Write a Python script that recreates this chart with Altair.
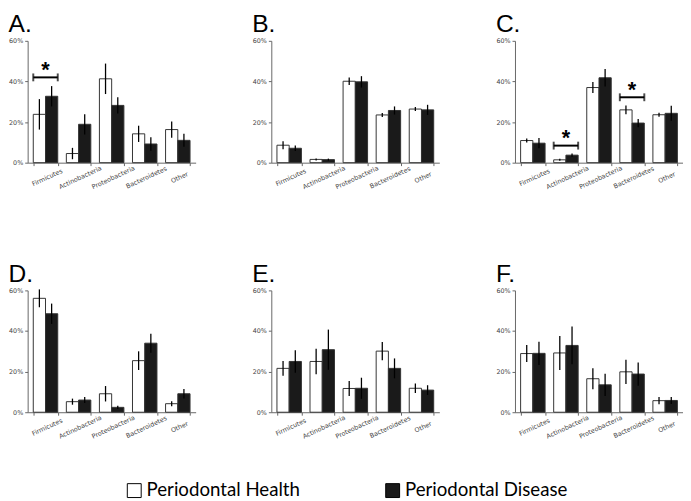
import altair as alt
import pandas as pd

categories = ["Firmicutes", "Actinobacteria", "Proteobacteria", "Bacteroidetes", "Other"]
groups = ["Periodontal Health", "Periodontal Disease"]
panel_labels = ["A.", "B.", "C.", "D.", "E.", "F."]

health_mean = [
    [23.8, 4.5, 41.3, 14.2, 16.3],
    [8.6, 1.6, 40.1, 23.5, 26.4],
    [10.9, 1.4, 37.0, 26.0, 23.6],
    [56.1, 5.2, 9.1, 25.4, 4.2],
    [21.6, 25.0, 11.7, 30.1, 11.8],
    [28.9, 29.2, 16.5, 19.9, 5.7],
]
health_err = [
    [7.5, 2.8, 7.5, 4.0, 4.0],
    [2.0, 0.5, 1.9, 1.0, 1.0],
    [1.0, 0.5, 2.7, 2.2, 1.0],
    [4.4, 1.5, 3.8, 4.6, 1.2],
    [3.6, 6.3, 3.7, 4.5, 2.3],
    [4.2, 8.4, 5.2, 6.0, 1.8],
]
disease_mean = [
    [32.7, 18.9, 28.2, 9.2, 11.0],
    [7.1, 1.5, 39.8, 25.7, 26.0],
    [9.6, 3.7, 41.8, 19.5, 24.3],
    [48.5, 6.0, 2.4, 34.0, 9.1],
    [25.0, 30.8, 11.8, 21.6, 10.9],
    [29.0, 32.9, 13.5, 18.8, 5.8],
]
disease_err = [
    [5.0, 5.0, 4.0, 3.3, 3.2],
    [1.3, 0.5, 2.8, 2.0, 2.5],
    [2.5, 0.8, 4.3, 2.0, 3.7],
    [5.0, 1.5, 0.8, 4.7, 2.3],
    [5.5, 9.9, 5.2, 4.9, 2.4],
    [5.7, 9.3, 5.5, 5.7, 1.7],
]
sig_panel = [0, 2, 2]
sig_category = ["Firmicutes", "Actinobacteria", "Bacteroidetes"]
sig_level = [42.0, 8.4, 32.2]
sig_star = [45.5, 12.0, 35.9]

AXIS_FONT = "DejaVu Sans"


def make_panel(i):
    rows = []
    for j, c in enumerate(categories):
        for g, m, e in ((groups[0], health_mean[i][j], health_err[i][j]),
                        (groups[1], disease_mean[i][j], disease_err[i][j])):
            rows.append({"cat": c, "grp": g, "val": m, "lo": m - e, "hi": m + e})
    df = pd.DataFrame(rows)

    xs = alt.Scale(domain=categories, paddingInner=0.26, paddingOuter=0.17)
    xaxis = alt.Axis(title=None, labelAngle=-25, labelAlign="center", labelBaseline="top",
                     labelFontSize=6.5, labelFont=AXIS_FONT,
                     labelColor="#444", tickBand="extent", tickSize=3, tickColor="#666",
                     domainColor="#666", labelPadding=9)
    ys = alt.Scale(domain=[0, 60], nice=False)
    yaxis = alt.Axis(title=None, values=[0, 10, 20, 30, 40, 50, 60],
                     labelExpr="datum.value + '%'", labelFontSize=6.5, labelFont=AXIS_FONT,
                     labelColor="#444", tickSize=3, tickColor="#666", domainColor="#666",
                     grid=False, labelPadding=2)
    xoff = alt.XOffset("grp:N", scale=alt.Scale(domain=groups, paddingInner=0, paddingOuter=0))

    bars = alt.Chart(df).mark_bar(stroke="#333", strokeWidth=1).encode(
        x=alt.X("cat:N", scale=xs, axis=xaxis, sort=categories),
        xOffset=xoff,
        y=alt.Y("val:Q", scale=ys, axis=yaxis),
        fill=alt.Fill("grp:N", scale=alt.Scale(domain=groups, range=["white", "#1a1a1a"]),
                      legend=alt.Legend(title=None, orient="none", legendX=99, legendY=448,
                                        direction="horizontal", symbolType="square",
                                        symbolSize=200, symbolStrokeColor="black",
                                        symbolStrokeWidth=1, labelFont="Lato",
                                        labelFontSize=19, labelColor="black",
                                        columnPadding=84, labelOffset=3, labelLimit=300)),
    )
    errs = alt.Chart(df).mark_rule(color="black", strokeWidth=1.3).encode(
        x=alt.X("cat:N", scale=xs, sort=categories),
        xOffset=xoff,
        y=alt.Y("lo:Q", scale=ys),
        y2="hi:Q",
    )
    layers = [bars, errs]

    sdf = pd.DataFrame([
        {"cat": c, "lvl": l, "star": s}
        for p, c, l, s in zip(sig_panel, sig_category, sig_level, sig_star) if p == i
    ])
    if len(sdf):
        line = alt.Chart(sdf).mark_rule(color="black", strokeWidth=2).encode(
            x=alt.X("cat:N", scale=xs, bandPosition=0),
            x2=alt.X2("cat:N", bandPosition=1),
            y=alt.Y("lvl:Q", scale=ys),
        )
        capl = alt.Chart(sdf).mark_tick(color="black", orient="vertical", size=8, thickness=2).encode(
            x=alt.X("cat:N", scale=xs, bandPosition=0),
            y=alt.Y("lvl:Q", scale=ys),
        )
        capr = alt.Chart(sdf).mark_tick(color="black", orient="vertical", size=8, thickness=2).encode(
            x=alt.X("cat:N", scale=xs, bandPosition=1),
            y=alt.Y("lvl:Q", scale=ys),
        )
        star = alt.Chart(sdf).mark_text(text="*", fontSize=22, fontWeight="bold", color="black",
                                        baseline="middle", font="Liberation Sans").encode(
            x=alt.X("cat:N", scale=xs),
            y=alt.Y("star:Q", scale=ys),
        )
        layers += [line, capl, capr, star]

    return alt.layer(*layers).properties(
        width=171, height=124,
        title=alt.TitleParams(panel_labels[i], anchor="start", fontSize=25, frame="bounds",
                              font="Liberation Sans", fontWeight="normal", color="black",
                              dx=0, offset=1),
    )


panels = [make_panel(i) for i in range(6)]
chart = alt.concat(*panels, columns=3, spacing={"row": 73, "column": 57}).configure_view(
    stroke=None).properties(padding=0)

chart.save("out.html", embed_options={"renderer": "svg", "actions": False})
